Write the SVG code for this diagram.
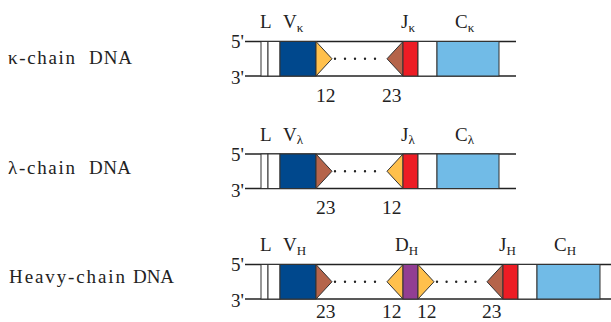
<svg xmlns="http://www.w3.org/2000/svg" width="611" height="322" viewBox="0 0 611 322">
<defs>
<style>
text{font-family:"Liberation Serif","Times New Roman",serif;fill:#222}
.lab{font-size:19px}
.side{font-size:19px}
.num{font-size:19.5px}
.sub{font-size:13px}
.strand{stroke:#222;stroke-width:1.3;fill:none}
.box{stroke:#333;stroke-width:1}
.w{fill:#fff}
.vb{fill:#00488d}
.y{fill:#ffc04c}
.br{fill:#b5644a}
.r{fill:#ed1c24}
.lb{fill:#71bbe7}
.p{fill:#923e93}
.dots{stroke:#222;stroke-width:2.4;stroke-linecap:round;fill:none}
</style>
</defs>
<rect width="611" height="322" fill="#fff"/>

<!-- Row 1: kappa -->
<g id="kappa-row" transform="translate(0,41.5)">
  <text class="side" x="8" y="22.5"><tspan textLength="67" lengthAdjust="spacing">κ-chain</tspan><tspan x="89" textLength="43" lengthAdjust="spacing">DNA</tspan></text>
  <text class="lab" x="244" y="6.5" text-anchor="end">5'</text>
  <text class="lab" x="244" y="42.5" text-anchor="end">3'</text>
  <g id="kappa-strands"><line class="strand" x1="245" y1="0" x2="516" y2="0"/><line class="strand" x1="245" y1="34.5" x2="516" y2="34.5"/></g>
  <g id="kappa-L"><rect class="box w" x="261" y="0" width="7" height="34.5"/><rect class="box w" x="268" y="0" width="12" height="34.5"/><text class="lab" x="260" y="-13.5">L</text></g>
  <g id="kappa-V"><rect class="box vb" x="280" y="0" width="36" height="34.5"/><polygon class="box y" points="316,0 332,17.25 316,34.5"/><text class="lab" x="283" y="-13.5">V<tspan class="sub" dy="3.5">κ</tspan></text><text class="num" x="316" y="60">12</text></g>
  <g id="kappa-J"><polygon class="box br" points="403,0 387,17.25 403,34.5"/><rect class="box r" x="403" y="0" width="15" height="34.5"/><text class="lab" x="401" y="-13.5">J<tspan class="sub" dy="3.5">κ</tspan></text><text class="num" x="382" y="60">23</text></g>
  <g id="kappa-C"><rect class="box w" x="418" y="0" width="19" height="34.5"/><rect class="box lb" x="437" y="0" width="62" height="34.5"/><text class="lab" x="455" y="-13.5">C<tspan class="sub" dy="3.5">κ</tspan></text></g>
  <g id="kappa-connectors"><line class="dots" x1="335" y1="17.25" x2="385" y2="17.25" stroke-dasharray="0 10"/></g>
</g>

<!-- Row 2: lambda -->
<g id="lambda-row" transform="translate(0,154)">
  <text class="side" x="8" y="20"><tspan textLength="67" lengthAdjust="spacing">λ-chain</tspan><tspan x="89" textLength="42" lengthAdjust="spacing">DNA</tspan></text>
  <text class="lab" x="244" y="6.5" text-anchor="end">5'</text>
  <text class="lab" x="244" y="42.5" text-anchor="end">3'</text>
  <g id="lambda-strands"><line class="strand" x1="245" y1="0" x2="516" y2="0"/><line class="strand" x1="245" y1="34.5" x2="516" y2="34.5"/></g>
  <g id="lambda-L"><rect class="box w" x="261" y="0" width="7" height="34.5"/><rect class="box w" x="268" y="0" width="12" height="34.5"/><text class="lab" x="260" y="-13.5">L</text></g>
  <g id="lambda-V"><rect class="box vb" x="280" y="0" width="36" height="34.5"/><polygon class="box br" points="316,0 332,17.25 316,34.5"/><text class="lab" x="283" y="-13.5">V<tspan class="sub" dy="3.5">λ</tspan></text><text class="num" x="316" y="60">23</text></g>
  <g id="lambda-J"><polygon class="box y" points="403,0 387,17.25 403,34.5"/><rect class="box r" x="403" y="0" width="15" height="34.5"/><text class="lab" x="401" y="-13.5">J<tspan class="sub" dy="3.5">λ</tspan></text><text class="num" x="382" y="60">12</text></g>
  <g id="lambda-C"><rect class="box w" x="418" y="0" width="19" height="34.5"/><rect class="box lb" x="437" y="0" width="62" height="34.5"/><text class="lab" x="455" y="-13.5">C<tspan class="sub" dy="3.5">λ</tspan></text></g>
  <g id="lambda-connectors"><line class="dots" x1="335" y1="17.25" x2="385" y2="17.25" stroke-dasharray="0 10"/></g>
</g>

<!-- Row 3: heavy -->
<g id="heavy-row" transform="translate(0,264.5)">
  <text class="side" x="9" y="18.5"><tspan textLength="116" lengthAdjust="spacing">Heavy-chain</tspan><tspan x="133" textLength="41" lengthAdjust="spacing">DNA</tspan></text>
  <text class="lab" x="244" y="6.5" text-anchor="end">5'</text>
  <text class="lab" x="244" y="42.5" text-anchor="end">3'</text>
  <g id="heavy-strands"><line class="strand" x1="245" y1="0" x2="611" y2="0"/><line class="strand" x1="245" y1="34.5" x2="611" y2="34.5"/></g>
  <g id="heavy-L"><rect class="box w" x="261" y="0" width="7" height="34.5"/><rect class="box w" x="268" y="0" width="12" height="34.5"/><text class="lab" x="260" y="-13.5">L</text></g>
  <g id="heavy-V"><rect class="box vb" x="280" y="0" width="36" height="34.5"/><polygon class="box br" points="316,0 332,17.25 316,34.5"/><text class="lab" x="283" y="-13.5">V<tspan class="sub" dy="3.5">H</tspan></text><text class="num" x="316" y="53">23</text></g>
  <g id="heavy-D"><polygon class="box y" points="403,0 387,17.25 403,34.5"/><rect class="box p" x="403" y="0" width="15" height="34.5"/><polygon class="box y" points="418,0 434,17.25 418,34.5"/><text class="lab" x="395" y="-13.5">D<tspan class="sub" dy="3.5">H</tspan></text><text class="num" x="382" y="53">12</text><text class="num" x="417" y="53">12</text></g>
  <g id="heavy-J"><polygon class="box br" points="503,0 487,17.25 503,34.5"/><rect class="box r" x="503" y="0" width="15" height="34.5"/><text class="lab" x="499" y="-13.5">J<tspan class="sub" dy="3.5">H</tspan></text><text class="num" x="482" y="53">23</text></g>
  <g id="heavy-C"><rect class="box w" x="518" y="0" width="19" height="34.5"/><rect class="box lb" x="537" y="0" width="63" height="34.5"/><text class="lab" x="554" y="-13.5">C<tspan class="sub" dy="3.5">H</tspan></text></g>
  <g id="heavy-connectors"><line class="dots" x1="335" y1="17.25" x2="385" y2="17.25" stroke-dasharray="0 10"/><line class="dots" x1="437" y1="17.25" x2="485" y2="17.25" stroke-dasharray="0 9.6"/></g>
</g>
</svg>
